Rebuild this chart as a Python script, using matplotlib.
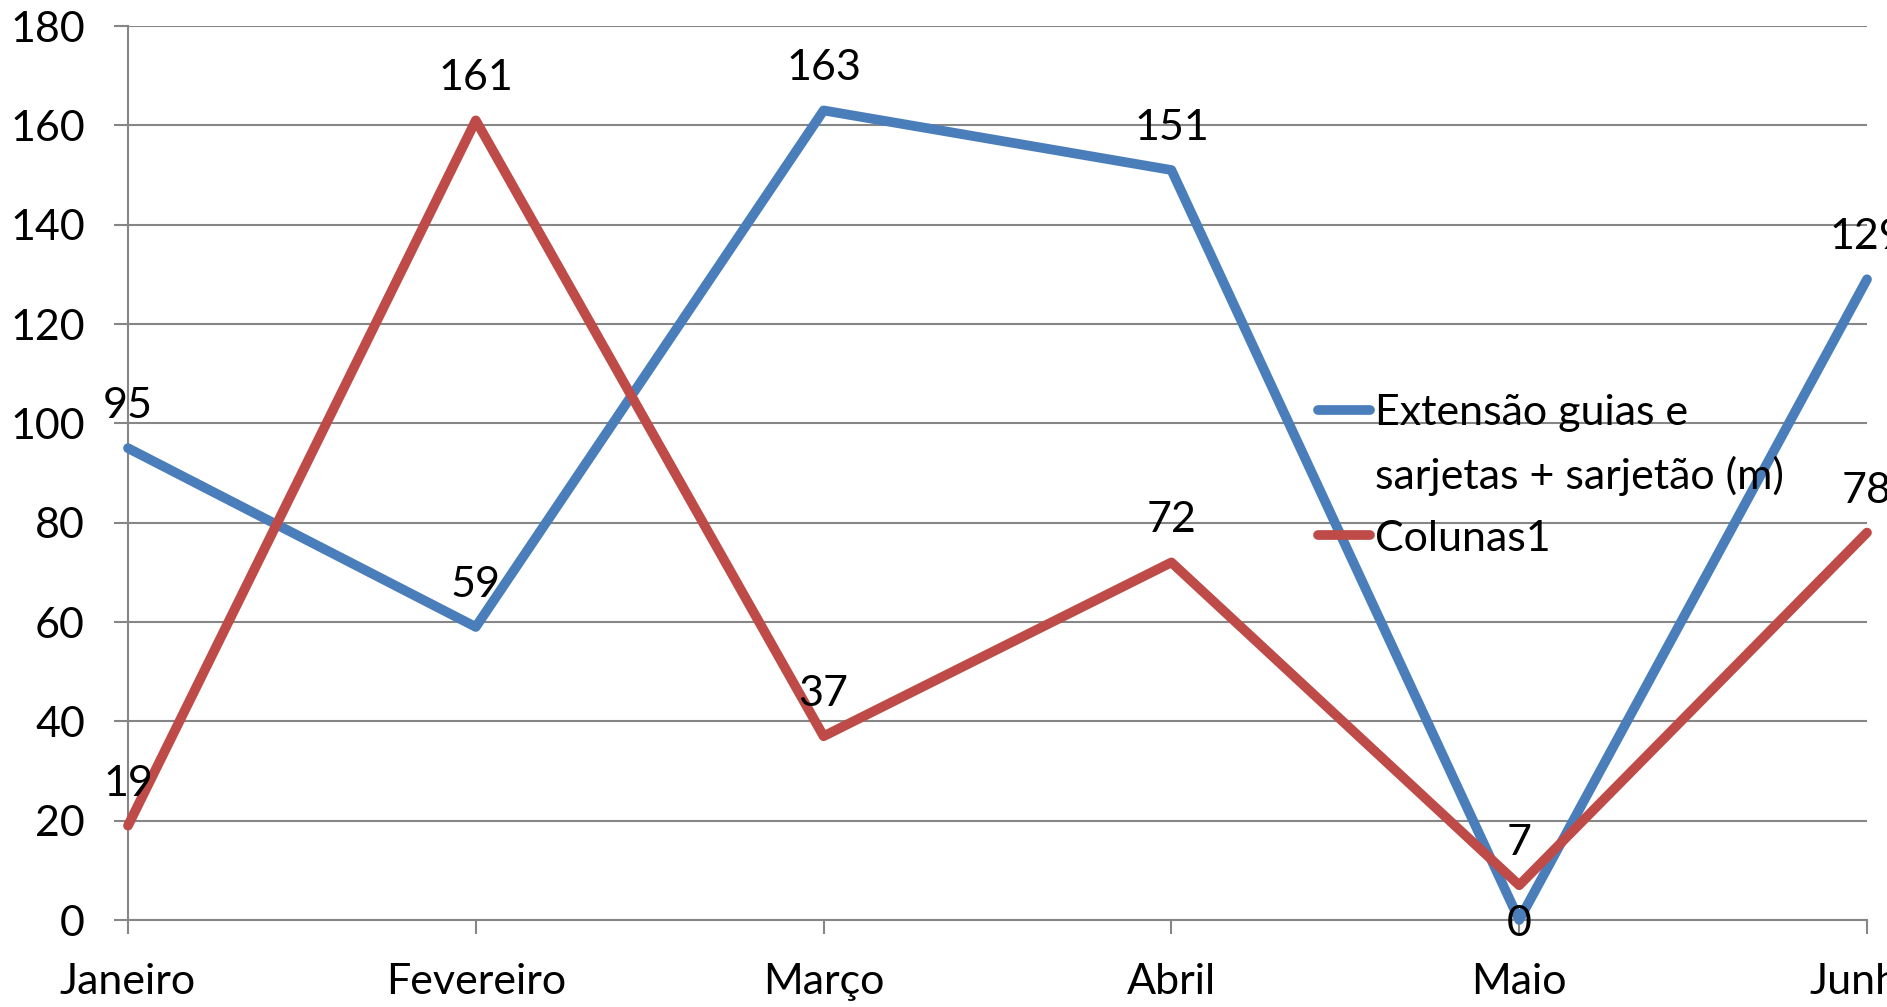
import matplotlib
matplotlib.use("Agg")
import matplotlib.pyplot as plt
from matplotlib.lines import Line2D

plt.rcParams["font.family"] = ["Lato", "DejaVu Sans"]

months = ["Janeiro", "Fevereiro", "Março", "Abril", "Maio", "Junho"]
extensao = [95, 59, 163, 151, 0, 129]
colunas1 = [19, 161, 37, 72, 7, 78]
y_ticks = list(range(0, 181, 20))
series_names = ["Extensão guias e\nsarjetas + sarjetão (m)", "Colunas1"]

BLUE = "#4A7EBB"
RED = "#BE4B48"
GRID = "#868686"
FS = 31

W, H = 1887, 1007
fig = plt.figure(figsize=(W / 100, H / 100), dpi=100)
ax = fig.add_axes([128 / W, 1 - 920 / H, (1867 - 128) / W, (920 - 26) / H])

x = list(range(len(months)))
for vals, color in [(extensao, BLUE), (colunas1, RED)]:
    ax.plot(x, vals, color=color, lw=7, solid_capstyle="round",
            solid_joinstyle="round", clip_on=False, zorder=3)
    for i, v in enumerate(vals):
        # zero label sits on the point, others above it
        dy = -4 if v == 0 else 42
        ax.annotate(str(v), (i, v), xytext=(0, dy), textcoords="offset pixels",
                    ha="center", va="center", fontsize=FS, annotation_clip=False, zorder=5)

ax.set_xlim(0, len(months) - 1)
ax.set_ylim(0, 180)
ax.set_xticks(x, months)
ax.set_yticks(y_ticks)
ax.grid(axis="y", color=GRID, lw=1.5)
ax.set_axisbelow(True)
for side in ["top", "right"]:
    ax.spines[side].set_visible(False)
for side in ["left", "bottom"]:
    ax.spines[side].set_color(GRID)
    ax.spines[side].set_linewidth(1.5)
ax.tick_params(axis="both", length=10, width=1.5, color=GRID, labelsize=FS)
ax.tick_params(axis="y", pad=21)
ax.tick_params(axis="x", pad=21)

handles = [
    Line2D([], [], color=BLUE, lw=7, solid_capstyle="round"),
    Line2D([], [], color="none"),
    Line2D([], [], color=RED, lw=7, solid_capstyle="round"),
]
labels = ["Extensão guias e", "sarjetas + sarjetão (m)", series_names[1]]
fig.legend(handles, labels, loc="upper left", bbox_to_anchor=(1318 / W, 1 - 394 / H),
           frameon=False, fontsize=FS, borderpad=0, borderaxespad=0,
           handlelength=1.2, handletextpad=0.12, labelspacing=0.55)

fig.savefig("out.png", dpi=100)
